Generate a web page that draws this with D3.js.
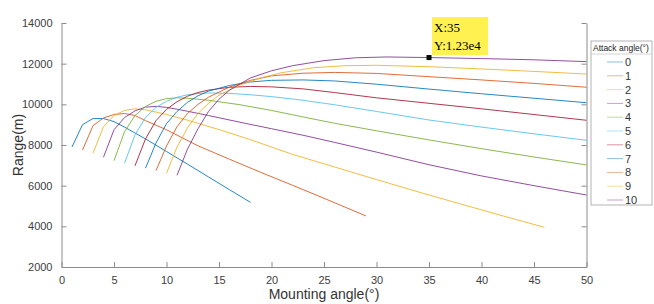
<!DOCTYPE html>
<html>
<head>
<meta charset="utf-8">
<script src="https://cdn.jsdelivr.net/npm/d3@7"></script>
<style>
  body { margin: 0; background: #fff; }
  text { font-family: "Liberation Sans", Arial, sans-serif; }
</style>
</head>
<body>
<div id="chart"></div>
<script>
// attack angles (legend) and the curve for each one: [mounting angle, range]
var attackAngles = [0, 1, 2, 3, 4, 5, 6, 7, 8, 9, 10];

var curve0 = [[1,7900],[2,9000],[3,9300],[4,9300],[5,9150],[6,8880],[8,8300],[10,7680],[12,7060],[14,6430],[16,5800],[18,5180]];
var curve1 = [[2,7750],[3,8950],[4,9330],[5,9500],[6,9550],[7,9450],[8,9200],[10,8750],[13,7960],[16,7300],[19,6650],[22,6020],[25,5380],[29,4510]];
var curve2 = [[3,7600],[4,8900],[5,9450],[6,9700],[7,9780],[8,9730],[9,9620],[10,9500],[12,9220],[15,8760],[18,8260],[22,7540],[26,6920],[30,6300],[34,5690],[38,5100],[42,4520],[46,3950]];
var curve3 = [[4,7400],[5,8750],[6,9350],[7,9680],[8,9860],[9,9900],[10,9850],[11,9760],[12,9660],[14,9450],[17,9120],[20,8800],[23,8480],[26,8130],[30,7650],[35,7030],[40,6480],[45,6000],[50,5540]];
var curve4 = [[5,7230],[6,8650],[7,9450],[8,9900],[9,10150],[10,10280],[11,10320],[12,10300],[14,10200],[17,9980],[20,9700],[23,9380],[26,9070],[30,8700],[35,8250],[40,7820],[45,7410],[50,7020]];
var curve5 = [[6,7100],[7,8500],[8,9350],[9,9850],[10,10150],[11,10350],[12,10470],[13,10530],[14,10560],[16,10540],[18,10470],[20,10380],[23,10200],[26,9980],[30,9650],[35,9230],[40,8880],[45,8550],[50,8230]];
var curve6 = [[7,6980],[8,8300],[9,9200],[10,9750],[11,10130],[12,10400],[13,10580],[14,10700],[16,10840],[18,10880],[20,10860],[23,10760],[26,10580],[30,10320],[35,10050],[40,9780],[45,9500],[50,9215]];
var curve7 = [[8,6860],[9,8100],[10,9050],[11,9650],[12,10100],[13,10420],[14,10650],[16,10930],[18,11100],[20,11180],[23,11200],[26,11150],[30,10990],[35,10750],[40,10520],[45,10300],[50,10080]];
var curve8 = [[9,6740],[10,7950],[11,8900],[12,9550],[13,10000],[14,10350],[16,10850],[18,11180],[20,11400],[23,11530],[26,11570],[30,11520],[35,11360],[40,11200],[45,11030],[50,10840]];
var curve9 = [[10,6610],[11,7900],[12,8850],[13,9550],[14,10050],[15,10450],[17,10950],[19,11300],[21,11560],[24,11800],[27,11900],[30,11920],[35,11850],[40,11740],[45,11620],[50,11490]];
var curve10 = [[11,6510],[12,7800],[13,8800],[14,9650],[15,10250],[16,10700],[18,11300],[20,11650],[22,11900],[25,12150],[28,12290],[31,12330],[35,12300],[40,12250],[45,12190],[50,12100]];

var curves = [curve0, curve1, curve2, curve3, curve4, curve5, curve6, curve7, curve8, curve9, curve10];

var xTicks = [0, 5, 10, 15, 20, 25, 30, 35, 40, 45, 50];
var yTicks = [2000, 4000, 6000, 8000, 10000, 12000, 14000];

// data tip
var tipX = 35, tipY = 12300;

var colors = ["#0072BD", "#D95319", "#EDB120", "#7E2F8E", "#77AC30", "#4DBEEE", "#A2142F"];

var width = 654, height = 304;
var svg = d3.select("#chart").append("svg")
    .attr("width", width)
    .attr("height", height);

var x = d3.scaleLinear().domain([0, 50]).range([61.5, 586.5]);
var y = d3.scaleLinear().domain([2000, 14000]).range([267, 23]);

var axisColor = "#8c8c8c";

// curves
var line = d3.line()
    .x(function(d) { return x(d[0]); })
    .y(function(d) { return y(d[1]); });

svg.append("g").selectAll("path")
  .data(curves)
  .enter().append("path")
    .attr("d", line)
    .attr("fill", "none")
    .attr("stroke", function(d, i) { return colors[i % colors.length]; })
    .attr("stroke-width", 1)
    .attr("stroke-opacity", 0.85);

// bottom axis, ticks inside
var xAxis = svg.append("g")
    .attr("transform", "translate(0," + y(2000) + ")")
    .call(d3.axisBottom(x).tickValues(xTicks).tickSizeInner(-5).tickSizeOuter(0).tickPadding(9));

// left axis, ticks inside
var yAxis = svg.append("g")
    .attr("transform", "translate(" + x(0) + ",0)")
    .call(d3.axisLeft(y).tickValues(yTicks).tickSizeInner(-5).tickSizeOuter(0).tickPadding(9).tickFormat(d3.format("d")));

// right side of the box
svg.append("g")
    .attr("transform", "translate(" + x(50) + ",0)")
    .call(d3.axisRight(y).tickValues(yTicks).tickSizeInner(-5).tickSizeOuter(0).tickFormat(""));

svg.selectAll(".domain, .tick line").attr("stroke", axisColor);
svg.selectAll(".tick text").attr("fill", "#404040").style("font-size", "11px");

// axis titles
svg.append("text")
    .attr("x", x(25))
    .attr("y", 299)
    .attr("text-anchor", "middle")
    .attr("fill", "#333")
    .style("font-size", "14px")
    .text("Mounting angle(°)");

svg.append("text")
    .attr("transform", "translate(23," + y(8000) + ") rotate(-90)")
    .attr("text-anchor", "middle")
    .attr("fill", "#333")
    .style("font-size", "14px")
    .text("Range(m)");

// data tip
svg.append("rect")
    .attr("x", x(tipX) - 2.5)
    .attr("y", y(tipY) - 2.5)
    .attr("width", 5)
    .attr("height", 5)
    .attr("fill", "#000");

var tip = svg.append("g").attr("transform", "translate(" + (x(tipX) + 3) + ",17)");
tip.append("rect")
    .attr("width", 56)
    .attr("height", 38)
    .attr("fill", "#FFF250");
tip.append("text")
    .attr("x", 2).attr("y", 15)
    .style("font-family", "'Liberation Serif', 'Times New Roman', serif")
    .style("font-size", "13px")
    .text("X:" + tipX);
tip.append("text")
    .attr("x", 2).attr("y", 33)
    .style("font-family", "'Liberation Serif', 'Times New Roman', serif")
    .style("font-size", "13px")
    .text("Y:" + d3.format(".2e")(tipY).replace("e+", "e"));

// legend
var legend = svg.append("g").attr("transform", "translate(591,41)");
legend.append("rect")
    .attr("width", 61)
    .attr("height", 164)
    .attr("fill", "#fff")
    .attr("stroke", "#a0a0a0")
    .attr("stroke-width", 0.8);
legend.append("line")
    .attr("x1", 0).attr("x2", 61)
    .attr("y1", 13).attr("y2", 13)
    .attr("stroke", "#c8c8c8")
    .attr("stroke-width", 0.8);
legend.append("text")
    .attr("x", 2).attr("y", 9.5)
    .attr("fill", "#222")
    .style("font-size", "8.5px")
    .text("Attack angle(°)");

var item = legend.selectAll(".item")
  .data(attackAngles)
  .enter().append("g")
    .attr("class", "item")
    .attr("transform", function(d, i) { return "translate(0," + (21 + i * 13.8) + ")"; });
item.append("line")
    .attr("x1", 16).attr("x2", 32)
    .attr("stroke", function(d, i) { return colors[i % colors.length]; })
    .attr("stroke-opacity", 0.45)
    .attr("stroke-width", 1);
item.append("text")
    .attr("x", 34)
    .attr("y", 4)
    .attr("fill", "#333")
    .style("font-size", "11px")
    .text(function(d) { return d; });
</script>
</body>
</html>
